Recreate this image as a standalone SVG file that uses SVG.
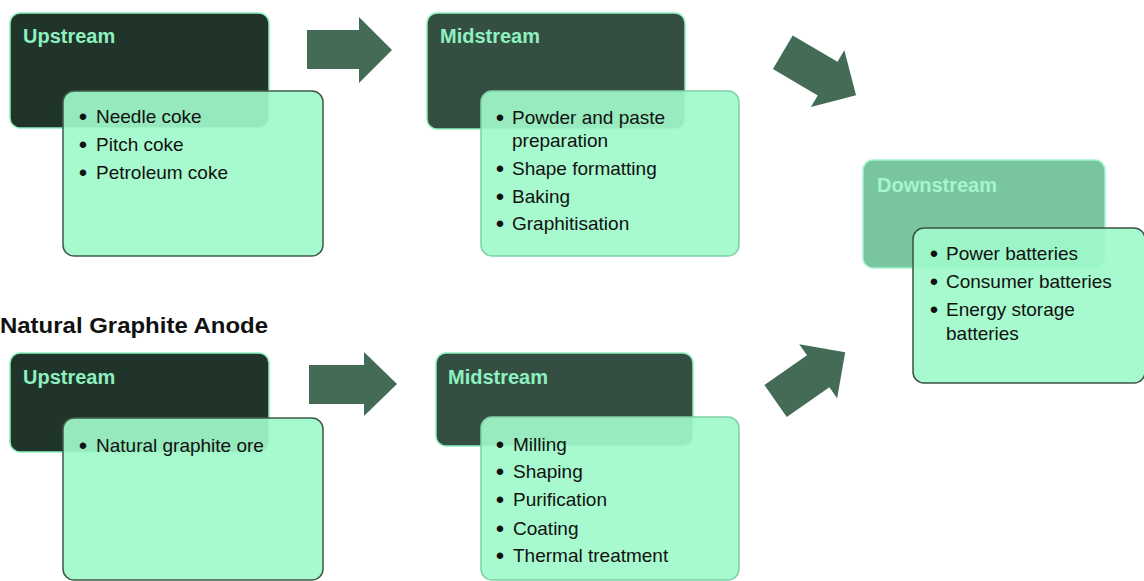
<svg xmlns="http://www.w3.org/2000/svg" width="1144" height="581" viewBox="0 0 1144 581">
<defs>
<style>
.up{fill:#213429}
.mid{fill:#344f41}
.down{fill:#79c59f;stroke:#a3f5cc}
.lt{fill:#a0f8ca;fill-opacity:0.92;stroke-width:1.5}
.ltd{stroke:#3e5a49}
.ltl{stroke:#7fd0a6}
.h{font-family:"Liberation Sans",Arial,sans-serif;font-weight:bold;font-size:20px;fill:#8ef0c0}
.t{font-family:"Liberation Sans",Arial,sans-serif;font-size:19px;fill:#111}
.b{font-family:"Liberation Sans",Arial,sans-serif;font-size:24px;fill:#111;text-anchor:middle}
.ar{fill:#436b55}
</style>
<polygon id="arr" points="-42,-19.5 10,-19.5 10,-33 43,0 10,33 10,19.5 -42,19.5"/>
</defs>
<rect width="1144" height="581" fill="#ffffff"/>

<g id="title">
<text x="0" y="333" font-family="Liberation Sans, Arial, sans-serif" font-weight="bold" font-size="22" fill="#111" textLength="268" lengthAdjust="spacingAndGlyphs">Natural Graphite Anode</text>
</g>

<g id="connectors">
<polygon class="ar" points="307,30 359,30 359,17 392,50 359,83 359,69 307,69"/>
<polygon class="ar" points="309,365 364,365 364,352 397,384 364,416 364,404 309,404"/>
<use href="#arr" class="ar" transform="translate(819,73.5) rotate(30.5)"/>
<use href="#arr" class="ar" transform="translate(810,377) rotate(-35)"/>
</g>

<g id="upstream-top">
<rect x="10" y="13" width="259" height="115" rx="10" class="up" stroke="#8ef0c0" stroke-width="1.5"/>
<text x="23" y="43" class="h">Upstream</text>
<rect x="63" y="91" width="260" height="165" rx="11" class="lt ltd"/>
<text x="83" y="125" class="b">•</text><text x="96" y="123" class="t">Needle coke</text>
<text x="83" y="153" class="b">•</text><text x="96" y="151" class="t">Pitch coke</text>
<text x="83" y="181" class="b">•</text><text x="96" y="179" class="t">Petroleum coke</text>
</g>

<g id="midstream-top">
<rect x="427" y="13" width="258" height="116" rx="10" class="mid" stroke="#8ef0c0" stroke-width="1.5"/>
<text x="440" y="43" class="h">Midstream</text>
<rect x="481" y="91" width="258" height="165" rx="11" class="lt ltl"/>
<text x="500" y="126" class="b">•</text><text x="512" y="124" class="t">Powder and paste</text>
<text x="512" y="147" class="t">preparation</text>
<text x="500" y="177" class="b">•</text><text x="512" y="175" class="t">Shape formatting</text>
<text x="500" y="205" class="b">•</text><text x="512" y="203" class="t">Baking</text>
<text x="500" y="232" class="b">•</text><text x="512" y="230" class="t">Graphitisation</text>
</g>

<g id="downstream">
<rect x="863" y="160" width="242" height="108" rx="10" class="down" stroke-width="1.5"/>
<text x="877" y="192" class="h" style="fill:#a6f5cf">Downstream</text>
<rect x="913" y="228" width="232" height="155" rx="11" class="lt" stroke="#3e5046"/>
<text x="934" y="262" class="b">•</text><text x="946" y="260" class="t">Power batteries</text>
<text x="934" y="290" class="b">•</text><text x="946" y="288" class="t">Consumer batteries</text>
<text x="934" y="318" class="b">•</text><text x="946" y="316" class="t">Energy storage</text>
<text x="946" y="340" class="t">batteries</text>
</g>

<g id="upstream-bottom">
<rect x="10" y="353" width="259" height="99" rx="10" class="up" stroke="#8ef0c0" stroke-width="1.5"/>
<text x="23" y="384" class="h">Upstream</text>
<rect x="63" y="418" width="260" height="162" rx="11" class="lt ltd"/>
<text x="83" y="454" class="b">•</text><text x="96" y="452" class="t">Natural graphite ore</text>
</g>

<g id="midstream-bottom">
<rect x="436" y="353" width="257" height="93" rx="10" class="mid" stroke="#8ef0c0" stroke-width="1.5"/>
<text x="448" y="384" class="h">Midstream</text>
<rect x="481" y="417" width="258" height="163" rx="11" class="lt ltl"/>
<text x="500" y="453" class="b">•</text><text x="513" y="451" class="t">Milling</text>
<text x="500" y="480" class="b">•</text><text x="513" y="478" class="t">Shaping</text>
<text x="500" y="508" class="b">•</text><text x="513" y="506" class="t">Purification</text>
<text x="500" y="537" class="b">•</text><text x="513" y="535" class="t">Coating</text>
<text x="500" y="564" class="b">•</text><text x="513" y="562" class="t">Thermal treatment</text>
</g>
</svg>
